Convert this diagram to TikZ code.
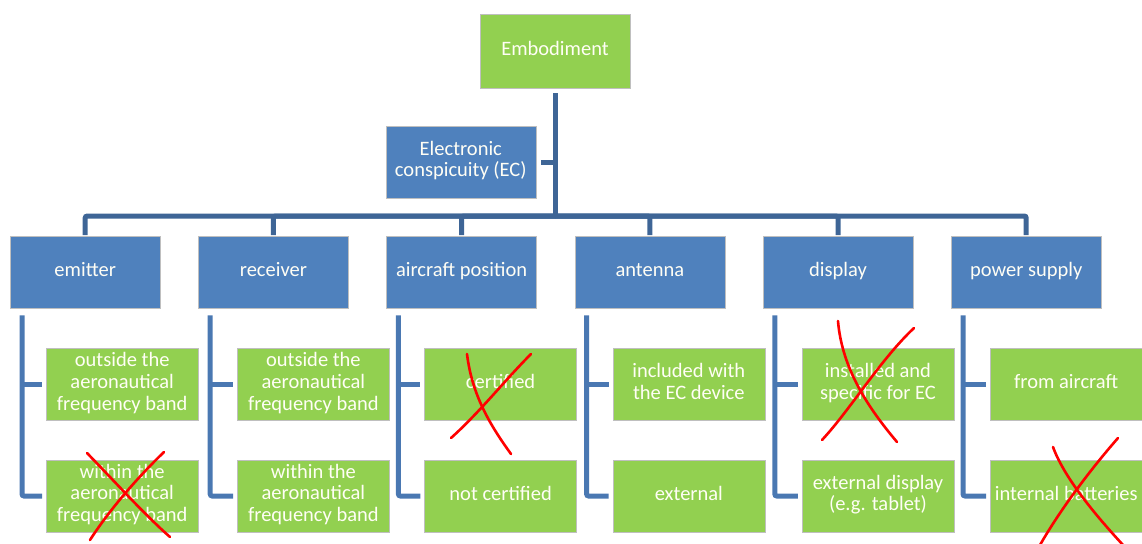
\documentclass[tikz,border=0pt]{standalone}
\usepackage{fontspec}
\setmainfont{Carlito}
\usepackage{xcolor}
\usetikzlibrary{positioning, calc}
\definecolor{boxgreen}{RGB}{146,208,80}
\definecolor{boxblue}{RGB}{79,129,189}
\definecolor{trunkblue}{RGB}{62,101,150}
\definecolor{linkblue}{RGB}{74,120,178}

\begin{document}
\begin{tikzpicture}[x=1pt, y=1pt, node distance=37.8pt]
    \tikzset{
        box/.style={rectangle, draw=white!75!black, line width=0.4pt, text=white!96!yellow,
                    minimum width=150pt, minimum height=72pt, inner sep=1pt,
                    align=center, font=\fontsize{20.5}{21.7}\selectfont,
                    execute at begin node=\strut, execute at end node=\strut},
        catbox/.style={box, fill=boxblue},
        optbox/.style={box, fill=boxgreen, minimum width=152pt},
        trunk/.style={draw=trunkblue, line width=5pt, rounded corners=2pt},
        bracket/.style={draw=linkblue, line width=5pt, rounded corners=2pt},
        strike/.style={draw=red, line width=2.6pt, line cap=round}
    }
    \useasboundingbox (0,0) rectangle (1142,-543);

    \node[optbox, minimum width=150pt, minimum height=74pt, anchor=north] (embodiment) at (555,-14) {Embodiment};
    \node[catbox, anchor=north east] (ec) at (536,-126) {Electronic\\conspicuity (EC)};

    % first level
    \node[catbox, anchor=north west] (emitter) at (10,-236) {emitter};
    \node[catbox, right=of emitter] (receiver) {receiver};
    \node[catbox, right=of receiver] (position) {aircraft position};
    \node[catbox, right=of position] (antenna) {antenna};
    \node[catbox, right=of antenna] (display) {display};
    \node[catbox, right=of display] (power) {power supply};

    \coordinate (bus) at (555,-216);
    \draw[trunk] ([yshift=-5pt]embodiment.south) -- (embodiment.south |- bus);
    \draw[trunk, shorten <=5pt] (ec.east) -- (ec.east -| embodiment.south);
    \foreach \n in {emitter, receiver, position, antenna, display, power}
        \draw[trunk, shorten <=1pt] (\n.north) |- (bus);

    % second level
    \node[optbox, below right=40pt and 36pt of emitter.south west] (emitterA) {outside the\\aeronautical\\frequency band};
    \node[optbox, below=39pt of emitterA] (emitterB) {within the\\aeronautical\\frequency band};
    \node[optbox, below right=40pt and 39pt of receiver.south west] (receiverA) {outside the\\aeronautical\\frequency band};
    \node[optbox, below=39pt of receiverA] (receiverB) {within the\\aeronautical\\frequency band};
    \node[optbox, below right=40pt and 38pt of position.south west] (positionA) {certified};
    \node[optbox, below=39pt of positionA] (positionB) {not certified};
    \node[optbox, below right=40pt and 38pt of antenna.south west] (antennaA) {included with\\the EC device};
    \node[optbox, below=39pt of antennaA] (antennaB) {external};
    \node[optbox, below right=40pt and 39pt of display.south west] (displayA) {installed and\\specific for EC};
    \node[optbox, below=39pt of displayA] (displayB) {external display\\(e.g. tablet)};
    \node[optbox, below right=40pt and 39pt of power.south west] (powerA) {from aircraft};
    \node[optbox, below=39pt of powerA] (powerB) {internal batteries};

    \foreach \p/\a/\b in {emitter/emitterA/emitterB, receiver/receiverA/receiverB,
                          position/positionA/positionB, antenna/antennaA/antennaB,
                          display/displayA/displayB, power/powerA/powerB} {
        \draw[bracket, shorten <=7pt, shorten >=4pt] ([xshift=12pt]\p.south west) |- (\b.west);
        \draw[bracket, shorten >=4pt] ([xshift=12pt]\p.south west |- \a.west) -- (\a.west);
    }

    % crossed out options
    \draw[strike] (87,-453) .. controls (118,-485) and (145,-515) .. (170,-537);
    \draw[strike] (164,-452) .. controls (135,-480) and (108,-512) .. (90,-540);
    \draw[strike] (467,-354) .. controls (472,-395) and (490,-425) .. (511,-454);
    \draw[strike] (531,-354) .. controls (505,-380) and (480,-412) .. (451,-438);
    \draw[strike] (838,-321) .. controls (842,-370) and (870,-410) .. (897,-442);
    \draw[strike] (914,-328) .. controls (880,-360) and (850,-410) .. (822,-440);
    \draw[strike] (1053,-447) .. controls (1065,-480) and (1100,-520) .. (1123,-545);
    \draw[strike] (1118,-438) .. controls (1090,-470) and (1060,-510) .. (1040,-545);
\end{tikzpicture}
\end{document}
